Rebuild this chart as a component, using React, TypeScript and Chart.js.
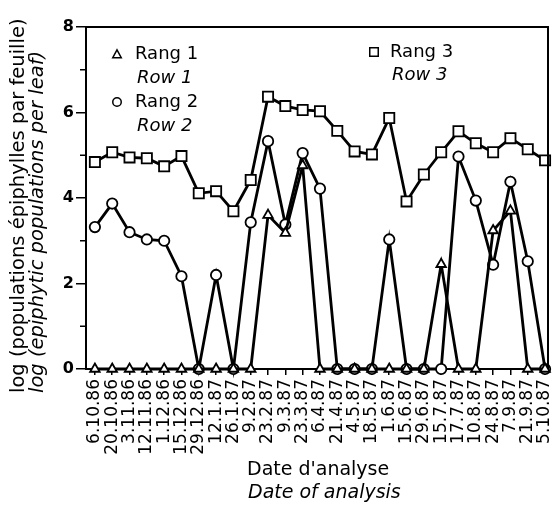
import React, { useEffect, useRef } from 'react';
import { Chart, registerables } from 'chart.js';

Chart.register(...registerables);

const categories = [
  '6.10.86', '20.10.86', '3.11.86', '12.11.86', '1.12.86', '15.12.86', '29.12.86',
  '12.1.87', '26.1.87', '9.2.87', '23.2.87', '9.3.87', '23.3.87', '6.4.87',
  '21.4.87', '4.5.87', '18.5.87', '1.6.87', '15.6.87', '29.6.87', '15.7.87',
  '17.7.87', '10.8.87', '24.8.87', '7.9.87', '21.9.87', '5.10.87',
];

const row1 = [0, 0, 0, 0, 0, 0, 0, 0, 0, 0, 3.6, 3.18, 4.76, 0, 0, 0, 0, 0, 0, 0, 2.45, 0, 0, 3.24, 3.7, 0, 0];
const row2 = [3.32, 3.87, 3.2, 3.03, 3.0, 2.17, 0, 2.2, 0, 3.43, 5.33, 3.38, 5.05, 4.22, 0, 0, 0, 3.03, 0, 0, 0, 4.97, 3.94, 2.44, 4.38, 2.52, 0];
const row3 = [4.84, 5.07, 4.95, 4.93, 4.74, 4.98, 4.11, 4.16, 3.69, 4.42, 6.37, 6.15, 6.06, 6.03, 5.57, 5.09, 5.02, 5.87, 3.92, 4.55, 5.07, 5.56, 5.28, 5.07, 5.4, 5.14, 4.88];

const yMajorTicks = [0, 2, 4, 6, 8];
const yMinorTicks = [1, 3, 5, 7];

const legendMain = ['Rang 1', 'Rang 2', 'Rang 3'];
const legendSub = ['Row 1', 'Row 2', 'Row 3'];
const yTitle = ['log (populations épiphylles par feuille)', 'log (epiphytic populations per leaf)'];
const xTitle = ["Date d'analyse", 'Date of analysis'];

const FONT = "'DejaVu Sans', sans-serif";

function drawMarker(ctx: CanvasRenderingContext2D, style: string, x: number, y: number, s: number) {
  ctx.beginPath();
  if (style === 'triangle') {
    const h = s * 0.866;
    ctx.moveTo(x, y - h / 2 - 0.5);
    ctx.lineTo(x + s / 2, y + h / 2);
    ctx.lineTo(x - s / 2, y + h / 2);
    ctx.closePath();
  } else if (style === 'circle') {
    ctx.arc(x, y, s / 2, 0, Math.PI * 2);
  } else {
    ctx.rect(x - s / 2, y - s / 2, s, s);
  }
  ctx.fillStyle = '#fff';
  ctx.fill();
  ctx.stroke();
}

const decor = {
  id: 'decor',
  afterDraw(chart: any) {
    const { ctx, chartArea: a, scales } = chart;
    const ys = scales.y;
    ctx.save();
    ctx.strokeStyle = '#000';
    ctx.fillStyle = '#000';
    // frame (top and right)
    ctx.lineWidth = 2;
    ctx.beginPath();
    ctx.moveTo(a.left, a.top);
    ctx.lineTo(a.right, a.top);
    ctx.lineTo(a.right, a.bottom);
    ctx.stroke();
    // minor y ticks
    ctx.lineWidth = 1.5;
    yMinorTicks.forEach((v) => {
      const py = ys.getPixelForValue(v);
      ctx.beginPath();
      ctx.moveTo(a.left - 6, py);
      ctx.lineTo(a.left, py);
      ctx.stroke();
    });
    // y title
    ctx.textBaseline = 'middle';
    ctx.textAlign = 'left';
    ctx.save();
    ctx.translate(19, 393);
    ctx.rotate(-Math.PI / 2);
    ctx.font = `19.5px ${FONT}`;
    ctx.fillText(yTitle[0], 0, 0);
    ctx.font = `italic 19.5px ${FONT}`;
    ctx.fillText(yTitle[1], 0, 19);
    ctx.restore();
    // x title
    ctx.font = `19px ${FONT}`;
    ctx.fillText(xTitle[0], 247, 470);
    ctx.font = `italic 19px ${FONT}`;
    ctx.fillText(xTitle[1], 248, 493);
    // legend
    const items = [
      { style: 'triangle', mx: 117, my: 54, tx: 135, ty: 54, sy: 78 },
      { style: 'circle', mx: 117, my: 102, tx: 135, ty: 102, sy: 126 },
      { style: 'rect', mx: 374, my: 52, tx: 390, ty: 52, sy: 75 },
    ];
    items.forEach((it, i) => {
      ctx.lineWidth = 1.5;
      ctx.strokeStyle = '#000';
      drawMarker(ctx, it.style, it.mx, it.my, 8.5);
      ctx.fillStyle = '#000';
      ctx.font = `18px ${FONT}`;
      ctx.fillText(legendMain[i], it.tx, it.ty);
      ctx.font = `italic 18px ${FONT}`;
      ctx.fillText(legendSub[i], it.tx + 2, it.sy);
    });
    ctx.restore();
  },
};

function series(label: string, values: number[], style: string, radius: number) {
  return {
    label,
    data: values.map((v, i) => ({ x: i, y: v })),
    borderColor: '#000',
    borderWidth: 2.8,
    pointStyle: style,
    pointRadius: radius,
    pointBackgroundColor: '#fff',
    pointBorderColor: '#000',
    pointBorderWidth: 1.8,
    tension: 0,
    clip: false,
  };
}

export default function App() {
  const ref = useRef<HTMLCanvasElement>(null);
  useEffect(() => {
    if (!ref.current) return;
    Chart.defaults.font.family = FONT;
    Chart.defaults.color = '#000';
    const chart = new Chart(ref.current, {
      type: 'line',
      data: {
        datasets: [
          series(legendMain[0], row1, 'triangle', 5.5),
          series(legendMain[1], row2, 'circle', 5.2),
          series(legendMain[2], row3, 'rect', 7.2),
        ] as any,
      },
      options: {
        animation: false,
        responsive: false,
        layout: { padding: { left: 0, right: 4, top: 27, bottom: 0 } },
        plugins: { legend: { display: false }, tooltip: { enabled: false } },
        scales: {
          x: {
            type: 'linear',
            min: -0.514,
            max: 26.17,
            afterBuildTicks: (scale: any) => {
              scale.ticks = categories.map((_, i) => ({ value: i }));
            },
            afterFit: (scale: any) => {
              scale.height = 136;
              scale.paddingLeft = 0;
              scale.paddingRight = 0;
            },
            ticks: {
              autoSkip: false,
              minRotation: 90,
              maxRotation: 90,
              padding: 4,
              font: { size: 17, family: FONT },
              color: '#000',
              callback: (_v: any, i: number) => categories[i] ?? '',
            },
            grid: { drawOnChartArea: false, drawTicks: true, tickLength: 6, color: '#000', lineWidth: 1.5 },
            border: { display: true, color: '#000', width: 2 },
          },
          y: {
            type: 'linear',
            min: 0,
            max: 8,
            afterBuildTicks: (scale: any) => {
              scale.ticks = yMajorTicks.map((v) => ({ value: v }));
            },
            afterFit: (scale: any) => {
              scale.width = 86;
              scale.paddingTop = 0;
              scale.paddingBottom = 0;
            },
            ticks: {
              padding: 2,
              font: { size: 16, weight: 'bold', family: FONT },
              color: '#000',
            },
            grid: { drawOnChartArea: false, drawTicks: true, tickLength: 10, color: '#000', lineWidth: 1.5 },
            border: { display: true, color: '#000', width: 2 },
          },
        },
      } as any,
      plugins: [decor],
    });
    return () => chart.destroy();
  }, []);
  return (
    <div style={{ position: 'absolute', left: 0, top: 0, width: 557, height: 505, background: '#fff' }}>
      <canvas ref={ref} width={557} height={505} style={{ display: 'block' }} />
    </div>
  );
}
